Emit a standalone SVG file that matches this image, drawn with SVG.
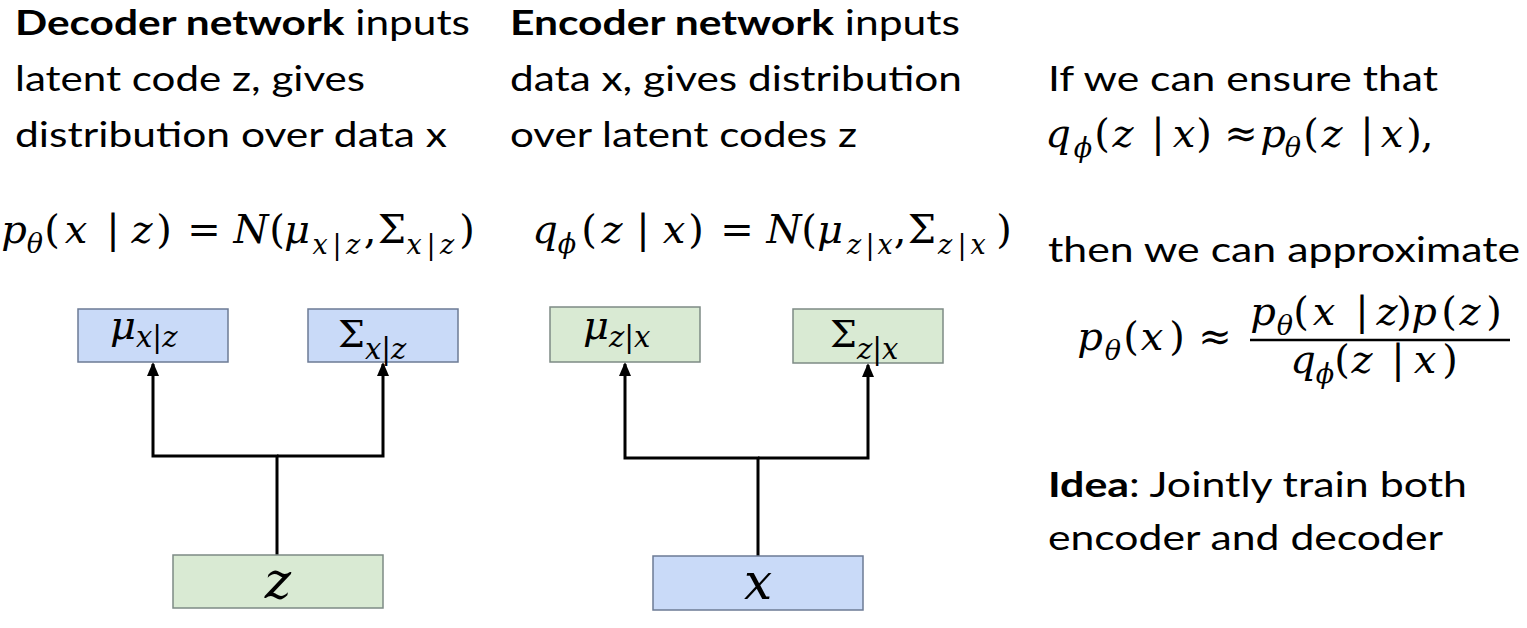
<svg xmlns="http://www.w3.org/2000/svg" width="1527" height="628" viewBox="0 0 1527 628">
<defs>
<style>
.t{font-family:Lato,"Open Sans","Liberation Sans",sans-serif;font-size:35px;fill:#000}
.b{font-weight:bold}
.m{font-family:"DejaVu Serif","Liberation Serif",serif;font-size:40px;fill:#000;text-anchor:middle}
.i{font-style:italic}
.s{font-size:27px}
.bx{font-family:"DejaVu Serif","Liberation Serif",serif;fill:#000;font-style:italic}
.blue{fill:#c9daf8;stroke:#6c7b95;stroke-width:1.5}
.green{fill:#d9ead3;stroke:#7d8b85;stroke-width:1.5}
.c{fill:none;stroke:#000;stroke-width:3}
</style>
<marker id="ah" markerUnits="userSpaceOnUse" markerWidth="14" markerHeight="12" refX="12" refY="6" orient="auto" viewBox="0 0 14 12">
<path d="M0,0 L14,6 L0,12 Z" fill="#000"/>
</marker>
</defs>
<rect width="1527" height="628" fill="#fff"/>

<g id="text-left">
<text class="t" x="15" y="35" textLength="455" lengthAdjust="spacingAndGlyphs"><tspan class="b">Decoder network</tspan> inputs</text>
<text class="t" x="15" y="91" textLength="350" lengthAdjust="spacingAndGlyphs">latent code z, gives</text>
<text class="t" x="15" y="147" textLength="432" lengthAdjust="spacingAndGlyphs">distribution over data x</text>
</g>
<g id="text-mid">
<text class="t" x="510" y="35" textLength="450" lengthAdjust="spacingAndGlyphs"><tspan class="b">Encoder network</tspan> inputs</text>
<text class="t" x="510" y="91" textLength="452" lengthAdjust="spacingAndGlyphs">data x, gives distribution</text>
<text class="t" x="510" y="147" textLength="347" lengthAdjust="spacingAndGlyphs">over latent codes z</text>
</g>
<g id="text-right">
<text class="t" x="1048" y="91" textLength="390" lengthAdjust="spacingAndGlyphs">If we can ensure that</text>
<text class="t" x="1048" y="262" textLength="472" lengthAdjust="spacingAndGlyphs">then we can approximate</text>
<text class="t" x="1048" y="497" textLength="419" lengthAdjust="spacingAndGlyphs"><tspan class="b">Idea</tspan>: Jointly train both</text>
<text class="t" x="1048" y="550" textLength="395" lengthAdjust="spacingAndGlyphs">encoder and decoder</text>
</g>

<g id="formula-decoder">
<text class="m"><tspan class="i" x="14" y="243">p</tspan><tspan class="i s" x="35" y="253">θ</tspan><tspan x="52" y="243">(</tspan><tspan class="i" x="76" y="243">x</tspan><tspan x="113" y="243">|</tspan><tspan class="i" x="142" y="243">z</tspan><tspan x="164" y="243">)</tspan><tspan x="204" y="243">=</tspan><tspan class="i" x="251" y="243">N</tspan><tspan x="277" y="243">(</tspan><tspan class="i" x="297" y="243">μ</tspan><tspan class="i s" x="320" y="254">x</tspan><tspan class="s" x="337" y="254">|</tspan><tspan class="i s" x="353" y="254">z</tspan><tspan x="370" y="243">,</tspan><tspan x="392" y="243">Σ</tspan><tspan class="i s" x="414" y="254">x</tspan><tspan class="s" x="431" y="254">|</tspan><tspan class="i s" x="447" y="254">z</tspan><tspan x="467" y="243">)</tspan></text>
</g>
<g id="formula-encoder">
<text class="m"><tspan class="i" x="545" y="243">q</tspan><tspan class="i s" x="567" y="253">ϕ</tspan><tspan x="589" y="243">(</tspan><tspan class="i" x="612" y="243">z</tspan><tspan x="643" y="243">|</tspan><tspan class="i" x="674" y="243">x</tspan><tspan x="696" y="243">)</tspan><tspan x="737" y="243">=</tspan><tspan class="i" x="784" y="243">N</tspan><tspan x="809" y="243">(</tspan><tspan class="i" x="830" y="243">μ</tspan><tspan class="i s" x="854" y="254">z</tspan><tspan class="s" x="870" y="254">|</tspan><tspan class="i s" x="885" y="254">x</tspan><tspan x="900" y="243">,</tspan><tspan x="922" y="243">Σ</tspan><tspan class="i s" x="945" y="254">z</tspan><tspan class="s" x="962" y="254">|</tspan><tspan class="i s" x="978" y="254">x</tspan><tspan x="1004" y="243">)</tspan></text>
</g>
<g id="formula-ensure">
<text class="m"><tspan class="i" x="1058" y="147">q</tspan><tspan class="i s" x="1083" y="157">ϕ</tspan><tspan x="1102" y="147">(</tspan><tspan class="i" x="1123" y="147">z</tspan><tspan x="1158" y="147">|</tspan><tspan class="i" x="1184" y="147">x</tspan><tspan x="1204" y="147">)</tspan><tspan x="1241" y="147">≈</tspan><tspan class="i" x="1273" y="147">p</tspan><tspan class="i s" x="1293" y="157">θ</tspan><tspan x="1311" y="147">(</tspan><tspan class="i" x="1332" y="147">z</tspan><tspan x="1367" y="147">|</tspan><tspan class="i" x="1392" y="147">x</tspan><tspan x="1414" y="147">)</tspan><tspan x="1427" y="147">,</tspan></text>
</g>
<g id="formula-approx">
<text class="m"><tspan class="i" x="1090" y="350">p</tspan><tspan class="i s" x="1113" y="360">θ</tspan><tspan x="1131" y="350">(</tspan><tspan class="i" x="1152" y="350">x</tspan><tspan x="1177" y="350">)</tspan><tspan x="1215" y="350">≈</tspan></text>
<text class="m"><tspan class="i" x="1263" y="325">p</tspan><tspan class="i s" x="1285" y="335">θ</tspan><tspan x="1301" y="325">(</tspan><tspan class="i" x="1324" y="325">x</tspan><tspan x="1362" y="325">|</tspan><tspan class="i" x="1387" y="325">z</tspan><tspan x="1404" y="325">)</tspan><tspan class="i" x="1424" y="325">p</tspan><tspan x="1449" y="325">(</tspan><tspan class="i" x="1470" y="325">z</tspan><tspan x="1494" y="325">)</tspan></text>
<line x1="1250" y1="340" x2="1510" y2="340" stroke="#000" stroke-width="2.5"/>
<text class="m"><tspan class="i" x="1303" y="373">q</tspan><tspan class="i s" x="1325" y="383">ϕ</tspan><tspan x="1342" y="373">(</tspan><tspan class="i" x="1362" y="373">z</tspan><tspan x="1398" y="373">|</tspan><tspan class="i" x="1425" y="373">x</tspan><tspan x="1450" y="373">)</tspan></text>
</g>

<g id="connectors">
<path class="c" d="M277,555 V456 H153 V364" marker-end="url(#ah)"/>
<path class="c" d="M277,456 H383 V364" marker-end="url(#ah)"/>
<path class="c" d="M758,556 V458 H625 V364" marker-end="url(#ah)"/>
<path class="c" d="M758,458 H868 V365" marker-end="url(#ah)"/>
</g>

<g id="node-mu-xz">
<rect class="blue" x="78" y="309" width="150" height="53"/>
<text class="bx" x="110" y="339" font-size="40">μ<tspan font-size="29" dy="8">x</tspan><tspan font-size="29" font-style="normal">|</tspan><tspan font-size="29">z</tspan></text>
</g>
<g id="node-sigma-xz">
<rect class="blue" x="308" y="309" width="150" height="53"/>
<text class="bx" x="338" y="347" font-size="38"><tspan font-style="normal">Σ</tspan><tspan font-size="29" dy="12">x</tspan><tspan font-size="29" font-style="normal">|</tspan><tspan font-size="29">z</tspan></text>
</g>
<g id="node-z">
<rect class="green" x="173" y="555" width="210" height="53"/>
<text class="bx" x="278" y="598" font-size="50" text-anchor="middle">z</text>
</g>
<g id="node-mu-zx">
<rect class="green" x="550" y="307" width="150" height="55"/>
<text class="bx" x="583" y="339" font-size="40">μ<tspan font-size="29" dy="8">z</tspan><tspan font-size="29" font-style="normal">|</tspan><tspan font-size="29">x</tspan></text>
</g>
<g id="node-sigma-zx">
<rect class="green" x="793" y="309" width="150" height="54"/>
<text class="bx" x="830" y="347" font-size="38"><tspan font-style="normal">Σ</tspan><tspan font-size="29" dy="12">z</tspan><tspan font-size="29" font-style="normal">|</tspan><tspan font-size="29">x</tspan></text>
</g>
<g id="node-x">
<rect class="blue" x="653" y="556" width="210" height="54"/>
<text class="bx" x="758" y="599" font-size="50" text-anchor="middle">x</text>
</g>
</svg>
